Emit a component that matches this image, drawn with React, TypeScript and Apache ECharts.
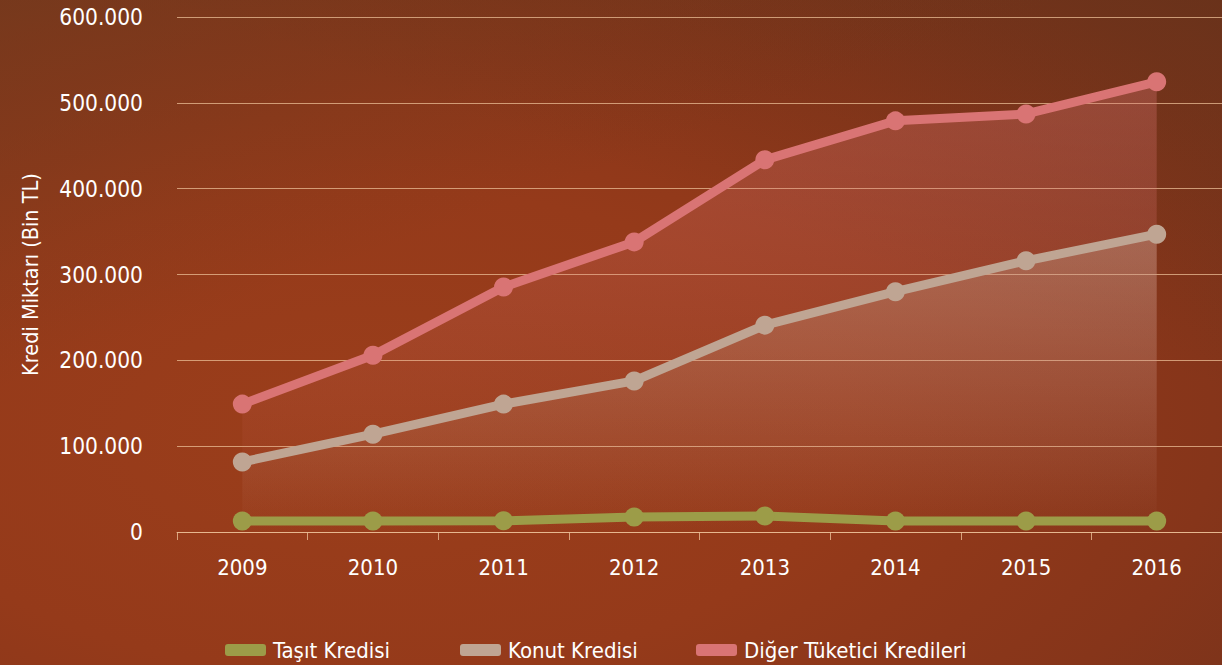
import React, { useEffect, useRef } from "react";
import * as echarts from "echarts";

const years = ["2009", "2010", "2011", "2012", "2013", "2014", "2015", "2016"];
const tasit = [12800, 12800, 13000, 17500, 18600, 12800, 12800, 12800];
const konut = [81600, 114000, 149000, 176000, 241000, 280000, 316000, 347000];
const diger = [149000, 206000, 285500, 338000, 433600, 479000, 487000, 524500];
const seriesNames = ["Taşıt Kredisi", "Konut Kredisi", "Diğer Tüketici Kredileri"];
const colors = ["#9c9c48", "#bfa593", "#d97474"];

const FONT = "'Liberation Sans Narrow', 'DejaVu Sans Condensed', sans-serif";

export default function App() {
  const ref = useRef<HTMLDivElement>(null);
  useEffect(() => {
    if (!ref.current) return;
    const chart = echarts.init(ref.current, undefined, { renderer: "svg" });
    const fmt = (v: number) =>
      v === 0 ? "0" : String(Math.round(v / 1000)) + ".000";
    const legendLefts = [225, 460, 696];
    chart.setOption({
      animation: false,
      backgroundColor: "transparent",
      grid: { left: 177, right: -8, top: 17, bottom: 133, containLabel: false },
      legend: seriesNames.map((n, i) => ({
        bottom: 4,
        left: legendLefts[i],
        padding: 0,
        itemWidth: 41,
        itemHeight: 12,
        itemGap: 7,
        icon: "roundRect",
        textStyle: { color: "#ffffff", fontSize: 22, fontFamily: FONT, padding: [0, 0, 0, 2] },
        data: [n],
      })),
      xAxis: {
        type: "category",
        data: years,
        boundaryGap: true,
        axisLine: { show: true, lineStyle: { color: "rgba(235,190,150,0.8)", width: 1 } },
        axisTick: { show: true, length: 8, lineStyle: { color: "rgba(235,190,150,0.8)" } },
        axisLabel: { color: "#ffffff", fontSize: 22, fontFamily: FONT, margin: 24 },
        splitLine: { show: false },
      },
      yAxis: {
        type: "value",
        min: 0,
        max: 600000,
        interval: 100000,
        name: "Kredi Miktarı (Bin TL)",
        nameLocation: "middle",
        nameGap: 136,
        nameRotate: 90,
        nameTextStyle: { color: "#ffffff", fontSize: 21.5, fontFamily: FONT },
        axisLine: { show: false },
        axisTick: { show: false },
        axisLabel: { color: "#ffffff", fontSize: 22.5, fontFamily: FONT, margin: 34, formatter: fmt },
        splitLine: { lineStyle: { color: "rgba(235,190,150,0.75)", width: 1 } },
      },
      series: [
        {
          name: seriesNames[2],
          type: "line",
          data: diger,
          z: 2,
          symbol: "circle",
          symbolSize: 19,
          lineStyle: { color: colors[2], width: 9 },
          itemStyle: { color: colors[2] },
          areaStyle: {
            color: new echarts.graphic.LinearGradient(0, 0, 0, 1, [
              { offset: 0, color: "rgba(225,120,120,0.45)" },
              { offset: 1, color: "rgba(225,120,120,0.0)" },
            ]),
          },
        },
        {
          name: seriesNames[1],
          type: "line",
          data: konut,
          z: 3,
          symbol: "circle",
          symbolSize: 19,
          lineStyle: { color: colors[1], width: 9 },
          itemStyle: { color: colors[1] },
          areaStyle: {
            color: new echarts.graphic.LinearGradient(0, 0, 0, 1, [
              { offset: 0, color: "rgba(200,170,150,0.5)" },
              { offset: 1, color: "rgba(200,170,150,0.0)" },
            ]),
          },
        },
        {
          name: seriesNames[0],
          type: "line",
          data: tasit,
          z: 4,
          symbol: "circle",
          symbolSize: 19,
          lineStyle: { color: colors[0], width: 9 },
          itemStyle: { color: colors[0] },
        },
      ],
    });
    return () => chart.dispose();
  }, []);
  return (
    <div
      style={{
        position: "fixed",
        left: 0,
        top: 0,
        width: 1222,
        height: 665,
        background:
          "radial-gradient(ellipse at 30% 65%, #9b3e1b 0%, #953a1a 40%, #86351a 70%, #70321c 100%), #8a381a",
      }}
    >
      <div
        style={{
          position: "absolute",
          inset: 0,
          background:
            "linear-gradient(160deg, rgba(110,60,30,0.55) 0%, rgba(110,60,30,0) 35%), linear-gradient(200deg, rgba(100,50,25,0.5) 0%, rgba(100,50,25,0) 35%)",
        }}
      />
      <div ref={ref} style={{ position: "absolute", left: 0, top: 0, width: 1222, height: 665 }} />
    </div>
  );
}
